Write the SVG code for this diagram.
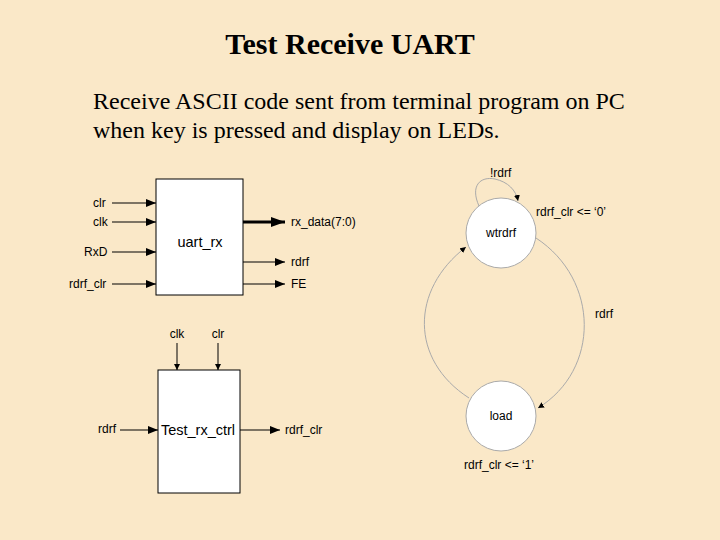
<svg xmlns="http://www.w3.org/2000/svg" width="720" height="540" viewBox="0 0 720 540">
<defs>
<marker id="a" markerWidth="10" markerHeight="8" refX="10" refY="4" orient="auto" markerUnits="userSpaceOnUse"><path d="M0,0L10,4L0,8z" fill="#000"/></marker>
<marker id="b" markerWidth="14" markerHeight="10" refX="14" refY="5" orient="auto" markerUnits="userSpaceOnUse"><path d="M0,0L14,5L0,10z" fill="#000"/></marker>
<marker id="s" markerWidth="6" markerHeight="6" refX="6" refY="3" orient="auto" markerUnits="userSpaceOnUse"><path d="M0,0L6,3L0,6z" fill="#000"/></marker>
</defs>
<style>
.t{font-family:"Liberation Sans",Arial,sans-serif;font-size:12px;fill:#000}
.n{font-family:"Liberation Sans",Arial,sans-serif;font-size:14.5px;fill:#000}
.h{font-family:"Liberation Serif","Times New Roman",serif;fill:#000}
.w{stroke:#000;stroke-width:1;fill:none}
.box{fill:#fff;stroke:#000;stroke-width:1}
.c{fill:#fff;stroke:#aaa;stroke-width:1}
.arc{fill:none;stroke:#aaa;stroke-width:1}
</style>
<rect width="720" height="540" fill="#fae8c8"/>
<text class="h" x="350" y="54" font-size="30" font-weight="bold" text-anchor="middle">Test Receive UART</text>
<text class="h" x="93" y="109" font-size="24">Receive ASCII code sent from terminal program on PC</text>
<text class="h" x="93" y="138" font-size="24">when key is pressed and display on LEDs.</text>
<g id="uart_rx"><rect class="box" x="156" y="179" width="87" height="116"/><text class="n" x="200" y="247" text-anchor="middle">uart_rx</text></g>
<g id="test_rx_ctrl"><rect class="box" x="158" y="370" width="82" height="123"/><text class="n" x="198" y="435" text-anchor="middle">Test_rx_ctrl</text></g>
<g id="wtrdrf"><circle class="c" cx="501" cy="233" r="35"/><text class="t" x="501" y="237" text-anchor="middle">wtrdrf</text></g>
<g id="load"><circle class="c" cx="501" cy="416" r="35"/><text class="t" x="501" y="420" text-anchor="middle">load</text></g>
<g id="connectors">
<path class="w" d="M112,203H156" marker-end="url(#a)"/>
<path class="w" d="M112,222H156" marker-end="url(#a)"/>
<path class="w" d="M112,252H156" marker-end="url(#a)"/>
<path class="w" d="M112,284H156" marker-end="url(#a)"/>
<path stroke="#000" stroke-width="3" d="M243,222H285" marker-end="url(#b)"/>
<path class="w" d="M243,262H285" marker-end="url(#a)"/>
<path class="w" d="M243,284H285" marker-end="url(#a)"/>
<path class="w" d="M177,343V370" marker-end="url(#s)"/>
<path class="w" d="M218,343V370" marker-end="url(#s)"/>
<path class="w" d="M120,430H158" marker-end="url(#a)"/>
<path class="w" d="M240,430H280" marker-end="url(#a)"/>
<path class="arc" d="M479,206C470,186 480,176 495,179C508,182 516,190 518,201" marker-end="url(#s)"/>
<path class="arc" d="M536,238C600,280 600,370 538,408" marker-end="url(#s)"/>
<path class="arc" d="M469,398C410,360 410,290 466,247" marker-end="url(#s)"/>
</g>
<g class="t">
<text x="93" y="207">clr</text><text x="93" y="226">clk</text><text x="84" y="256">RxD</text><text x="69" y="288">rdrf_clr</text>
<text x="291" y="226">rx_data(7:0)</text><text x="291" y="266">rdrf</text><text x="291" y="288">FE</text>
<text x="177" y="338" text-anchor="middle">clk</text><text x="218" y="338" text-anchor="middle">clr</text>
<text x="98" y="433">rdrf</text><text x="285" y="434">rdrf_clr</text>
<text x="490" y="177">!rdrf</text><text x="536" y="216">rdrf_clr &lt;= ‘0’</text>
<text x="595" y="318">rdrf</text><text x="464" y="469">rdrf_clr &lt;= ‘1’</text>
</g>
</svg>
